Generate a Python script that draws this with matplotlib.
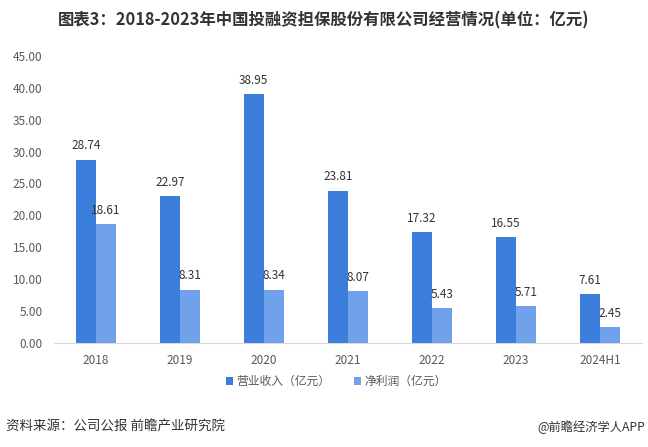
import matplotlib
matplotlib.use("Agg")
import matplotlib.pyplot as plt
import numpy as np

plt.rcParams['font.family'] = ['Noto Sans CJK SC', 'DejaVu Sans']

categories = ["2018", "2019", "2020", "2021", "2022", "2023", "2024H1"]
revenue = [28.74, 22.97, 38.95, 23.81, 17.32, 16.55, 7.61]
profit = [18.61, 8.31, 8.34, 8.07, 5.43, 5.71, 2.45]
yticks = [0, 5, 10, 15, 20, 25, 30, 35, 40, 45]

c1 = '#3c7edb'
c2 = '#6fa2ea'

fig = plt.figure(figsize=(6.48, 4.47), dpi=100)
ax = fig.add_axes([0.083, 0.233, 0.908, 0.642])
x = np.arange(len(categories))
w = 0.24
b1 = ax.bar(x - w/2, revenue, w, color=c1, label='营业收入（亿元）')
b2 = ax.bar(x + w/2, profit, w, color=c2, label='净利润（亿元）')
for rect, v in zip(b1, revenue):
    ax.text(rect.get_x() + rect.get_width()/2, v + 1.2, f"{v:.2f}", ha='center', va='bottom', fontsize=8.5, color='#333333')
for rect, v in zip(b2, profit):
    ax.text(rect.get_x() + rect.get_width()/2, v + 1.2, f"{v:.2f}", ha='center', va='bottom', fontsize=8.5, color='#333333')

ax.set_ylim(0, 45)
ax.set_xlim(-0.5, len(categories) - 0.5)
ax.set_yticks(yticks)
ax.set_yticklabels([f"{t:.2f}" for t in yticks], fontsize=8.5, color='#595959')
ax.set_xticks(x)
ax.set_xticklabels(categories, fontsize=8.5, color='#595959')
ax.tick_params(length=0, pad=8)
for s in ['top', 'right', 'left']:
    ax.spines[s].set_visible(False)
ax.spines['bottom'].set_color('#d9d9d9')

fig.text(0.5, 0.955, '图表3：2018-2023年中国投融资担保股份有限公司经营情况(单位：亿元)', ha='center', va='center', fontsize=11.8, fontweight='bold', color='#333333')
ax.legend(loc='upper center', bbox_to_anchor=(0.48, -0.075), ncol=2, frameon=False, fontsize=8.5,
          handlelength=0.6, handleheight=0.6, handletextpad=0.3, columnspacing=2.0, labelcolor='#595959')
fig.text(0.01, 0.045, '资料来源：公司公报 前瞻产业研究院', ha='left', va='center', fontsize=9.7, color='#333333')
fig.text(0.995, 0.045, '@前瞻经济学人APP', ha='right', va='center', fontsize=8.8, color='#333333')

fig.savefig('out.png', dpi=100)
